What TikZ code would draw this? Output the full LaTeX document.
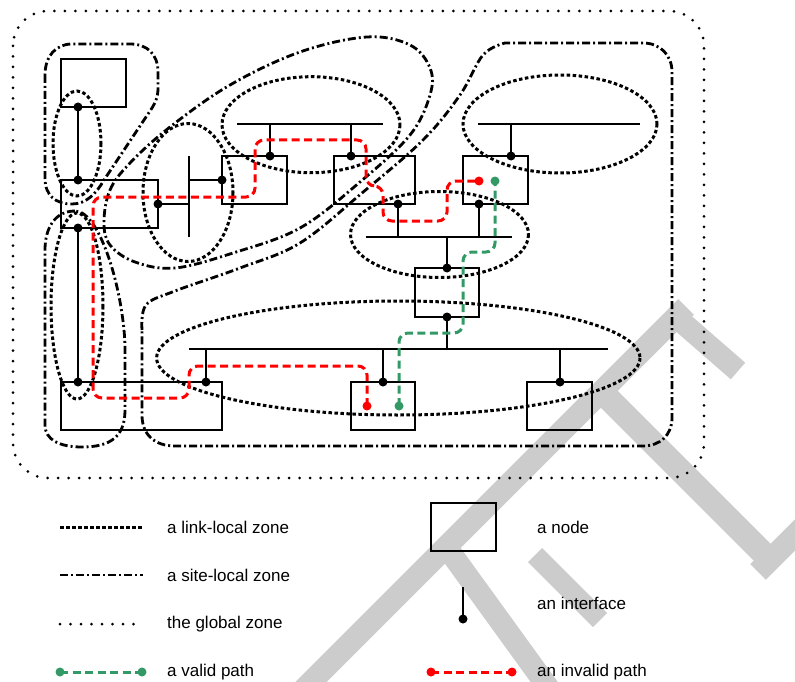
\documentclass[tikz,border=0pt]{standalone}
\usepackage{fontspec}
\setmainfont{Liberation Sans}
\begin{document}
\begin{tikzpicture}[x=1pt,y=-1pt,
  box/.style={draw,line width=2pt,inner sep=0pt,outer sep=0pt,minimum width=65pt,minimum height=48pt},
  wire/.style={line width=2pt},
  linklocal/.style={line width=3pt,dash pattern=on 3.5pt off 2.5pt},
  sitelocal/.style={line width=2.8pt,dash pattern=on 8pt off 3pt on 2pt off 3pt},
  globalzone/.style={line width=3pt,line cap=round,dash pattern=on 0pt off 10.5pt},
  validpath/.style={line width=3pt,draw=validgreen,dash pattern=on 8pt off 4.5pt},
  invalidpath/.style={line width=3pt,draw=red,dash pattern=on 8pt off 4.5pt},
  lbl/.style={anchor=west,inner sep=0pt,font=\fontsize{17}{20}\selectfont},
  wm/.style={draw=wmgray,line width=22pt}
]
\definecolor{validgreen}{RGB}{51,153,102}
\definecolor{wmgray}{RGB}{204,204,204}
\useasboundingbox (0,0) rectangle (795,682);
\begin{scope}
\clip (0,0) rectangle (795,682);
% watermark (light grey strokes)
\draw[wm] (686,307) -- (296,697);
\draw[wm] (676,317) -- (738,371);
\draw[wm,line width=24pt] (600,390) -- (772,562);
\draw[wm] (758,572) -- (812,518);
\draw[wm,line width=20pt] (535,555) -- (600,620);
\draw[wm] (445,545) -- (550,690);
\end{scope}

% global zone
\draw[globalzone,rounded corners=35pt] (13,11) rectangle (704,478);

% nodes
\node[box] (A) at (93.5,83) {};
\node[box,minimum width=97pt] (B) at (109.5,204) {};
\node[box] (C) at (254.5,180) {};
\node[box,minimum width=81pt] (D) at (374.5,180) {};
\node[box] (E) at (495.5,180) {};
\node[box,minimum width=64pt,minimum height=49pt] (F) at (447,292.5) {};
\node[box,minimum width=161pt] (G) at (141.5,406) {};
\node[box,minimum width=64pt] (H) at (383,406) {};
\node[box] (I) at (559.5,406) {};

% interface points
\coordinate (iA) at (78,107);
\coordinate (iBt) at (78,180);
\coordinate (iBr) at (158,204);
\coordinate (iBb) at (78,228);
\coordinate (iCl) at (222,180);
\coordinate (iCt) at (270,156);
\coordinate (iDt) at (351,156);
\coordinate (iDb) at (398,204);
\coordinate (iEt) at (511,156);
\coordinate (iEb) at (479,204);
\coordinate (iFt) at (447,268);
\coordinate (iFb) at (447,317);
\coordinate (iGl) at (78,382);
\coordinate (iGt) at (206,382);
\coordinate (iHt) at (383,382);
\coordinate (iIt) at (560,382);

% links
\draw[wire] (iA) -- (iBt);
\draw[wire] (iBb) -- (iGl);
\draw[wire] (189,156) coordinate (v1a) -- (189,237) coordinate (v1b);
\draw[wire] (iBr) -- (iBr -| v1a);
\draw[wire] (iCl -| v1a) -- (iCl);
\draw[wire] (237,124) coordinate (l2a) -- (383,124) coordinate (l2b);
\draw[wire] (iCt |- l2a) -- (iCt);
\draw[wire] (iDt |- l2a) -- (iDt);
\draw[wire] (366,237) coordinate (l3a) -- (512,237) coordinate (l3b);
\draw[wire] (iDb) -- (iDb |- l3a);
\draw[wire] (iEb) -- (iEb |- l3a);
\draw[wire] (iFt |- l3a) -- (iFt);
\draw[wire] (478,124) coordinate (l4a) -- (640,124) coordinate (l4b);
\draw[wire] (iEt |- l4a) -- (iEt);
\draw[wire] (189,349) coordinate (l5a) -- (608,349) coordinate (l5b);
\draw[wire] (iFb) -- (iFb |- l5a);
\draw[wire] (iGt |- l5a) -- (iGt);
\draw[wire] (iHt |- l5a) -- (iHt);
\draw[wire] (iIt |- l5a) -- (iIt);

\foreach \p in {iA,iBt,iBr,iBb,iCl,iCt,iDt,iDb,iEt,iEb,iFt,iFb,iGl,iGt,iHt,iIt}
  \fill (\p) circle (4.5);

% link-local zones
\draw[linklocal] (77,143.5) ellipse [x radius=24, y radius=52.5];
\draw[linklocal] (77,306) ellipse [x radius=26, y radius=93];
\draw[linklocal] (188,192.5) ellipse [x radius=45, y radius=69];
\draw[linklocal] (311,124.7) ellipse [x radius=89, y radius=48];
\draw[linklocal] (560,124) ellipse [x radius=97, y radius=49];
\draw[linklocal] (439.5,234.5) ellipse [x radius=89, y radius=43];
\draw[linklocal] (398.3,358) ellipse [x radius=241.7, y radius=57];

% site-local zones
\draw[sitelocal] (45,75) -- (45,178) .. controls (45,196) and (56,204) .. (72,204)
  .. controls (86,204) and (96,194) .. (104,180) -- (148,114)
  .. controls (155,104) and (158,98) .. (158,88) -- (158,72)
  .. controls (158,55) and (148,44) .. (130,44) -- (72,44)
  .. controls (56,44) and (45,56) .. (45,75) -- cycle;
\draw[sitelocal] (75,211) .. controls (55,211) and (45,228) .. (45,250) -- (45,425)
  .. controls (45,440) and (60,447) .. (82,447) .. controls (110,447) and (125,437) .. (125,410)
  -- (125,345) .. controls (123,290) and (100,211) .. (75,211) -- cycle;
\draw[sitelocal] plot[smooth cycle,tension=0.6] coordinates {(104,222) (110,190) (130,163) (170,127) (230,85) (300,52) (367,37) (410,45) (430,68) (430,95) (410,135) (360,182) (300,228) (233,253) (175,268) (135,262) (110,245)};
\draw[sitelocal] plot[smooth,tension=0.6] coordinates {(142,330) (146,305) (175,291) (240,268) (300,243) (362,193) (423,140) (460,95) (483,55) (505,43)}
  -- (643,43) .. controls (660,43) and (672,55) .. (672,72) -- (672,418)
  .. controls (672,435) and (660,446) .. (643,446) -- (175,446)
  .. controls (155,446) and (142,435) .. (142,415) -- (142,330);

% paths
\coordinate (rH) at (367,406);
\coordinate (rE) at (479,181);
\coordinate (gH) at (399,406);
\coordinate (gE) at (495,181);
\draw[invalidpath,rounded corners=9pt] (rH) -- (367,366) -- (189,366) -- (189,398) -- (93,398) -- (93,197) -- (255,197) -- (255,140) -- (366,140) -- (366,186) -- (383,186) -- (383,221) -- (447,221) -- (447,181) -- (rE);
\draw[validpath,rounded corners=9pt] (gH) -- (399,333) -- (463,333) -- (463,252) -- (495,252) -- (gE);
\fill[red] (rH) circle (4.5) (rE) circle (4.5);
\fill[validgreen] (gH) circle (4.5) (gE) circle (4.5);

% legend
\draw[linklocal] (60,527) coordinate (lg1a) -- (143,527) coordinate (lg1b);
\node[lbl] (t1) at (167,527) {a link-local zone};
\draw[sitelocal] (60,575) coordinate (lg2a) -- (143,575) coordinate (lg2b);
\node[lbl] (t2) at (167,575) {a site-local zone};
\draw[globalzone] (60,624) coordinate (lg3a) -- (134,624) coordinate (lg3b);
\node[lbl] (t3) at (167,624) {the global zone};
\coordinate (lg4a) at (60,672);
\coordinate (lg4b) at (142,672);
\draw[validpath] (lg4a) -- (lg4b);
\fill[validgreen] (lg4a) circle (4.5) (lg4b) circle (4.5);
\node[lbl] (t4) at (167,672) {a valid path};
\node[box] (LN) at (463.5,527) {};
\node[lbl] (t5) at (537,527) {a node};
\coordinate (lg6a) at (463,587);
\coordinate (lg6b) at (463,619);
\draw[wire] (lg6a) -- (lg6b);
\fill (lg6b) circle (4.5);
\node[lbl] (t6) at (537,603) {an interface};
\coordinate (lg7a) at (431,672);
\coordinate (lg7b) at (512,672);
\draw[invalidpath] (lg7a) -- (lg7b);
\fill[red] (lg7a) circle (4.5) (lg7b) circle (4.5);
\node[lbl] (t7) at (537,672) {an invalid path};
\end{tikzpicture}
\end{document}
